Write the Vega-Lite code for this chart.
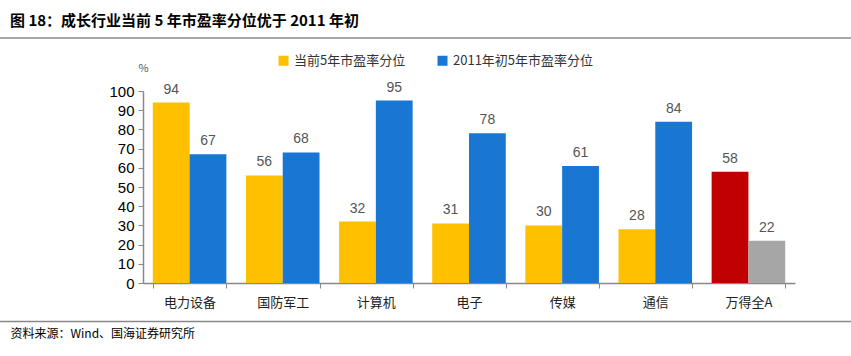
{
  "$schema": "https://vega.github.io/schema/vega-lite/v6.json",
  "autosize": "none",
  "width": 652,
  "height": 192,
  "padding": {"left": 143, "top": 91, "right": 56, "bottom": 73},
  "background": "white",
  "config": {"view": {"stroke": null}, "font": "Noto Sans CJK SC"},
  "title": {
    "text": "图 18：成长行业当前 5 年市盈率分位优于 2011 年初",
    "anchor": "start", "frame": "group", "dx": -133, "offset": 8,
    "fontSize": 15, "fontWeight": "bold", "font": "Noto Sans CJK SC", "color": "#000000"
  },
  "data": {"values": [
    {"cat": "电力设备", "series": "当前5年市盈率分位", "value": 94},
    {"cat": "电力设备", "series": "2011年初5年市盈率分位", "value": 67},
    {"cat": "国防军工", "series": "当前5年市盈率分位", "value": 56},
    {"cat": "国防军工", "series": "2011年初5年市盈率分位", "value": 68},
    {"cat": "计算机", "series": "当前5年市盈率分位", "value": 32},
    {"cat": "计算机", "series": "2011年初5年市盈率分位", "value": 95},
    {"cat": "电子", "series": "当前5年市盈率分位", "value": 31},
    {"cat": "电子", "series": "2011年初5年市盈率分位", "value": 78},
    {"cat": "传媒", "series": "当前5年市盈率分位", "value": 30},
    {"cat": "传媒", "series": "2011年初5年市盈率分位", "value": 61},
    {"cat": "通信", "series": "当前5年市盈率分位", "value": 28},
    {"cat": "通信", "series": "2011年初5年市盈率分位", "value": 84},
    {"cat": "万得全A", "series": "当前5年市盈率分位", "value": 58},
    {"cat": "万得全A", "series": "2011年初5年市盈率分位", "value": 22}
  ]},
  "encoding": {
    "y": {"field": "value", "type": "quantitative",
      "scale": {"domain": [0, 100]},
      "axis": {"title": "%", "titleAngle": 0, "titleX": 0, "titleY": -18, "titleAlign": "center",
        "titleFontSize": 11, "titleFontWeight": "normal", "titleColor": "#555555",
        "values": [0,10,20,30,40,50,60,70,80,90,100], "grid": false, "labelOverlap": false,
        "labelFont": "Liberation Sans", "labelFontSize": 15, "labelColor": "#000000", "labelPadding": 4,
        "tickColor": "#888888", "tickSize": 5, "domainColor": "#888888", "domainWidth": 1.5}}
  },
  "layer": [
    {
      "mark": {"type": "bar"},
      "encoding": {
        "x": {"field": "cat", "type": "nominal", "sort": null,
          "scale": {"paddingInner": 0.21, "paddingOuter": 0.105},
          "axis": {"title": "资料来源：Wind、国海证券研究所", "titleX": -133, "titleY": 50,
            "titleAnchor": "start", "titleAlign": "left", "titleBaseline": "middle",
            "titleFontSize": 12, "titleFontWeight": "normal", "titleColor": "#000000",
            "labelAngle": 0, "labelFontSize": 13, "labelColor": "#222222", "labelPadding": 8,
            "tickBand": "extent", "tickColor": "#888888", "tickSize": 5,
            "domainColor": "#888888", "domainWidth": 1.5}},
        "xOffset": {"field": "series", "type": "nominal", "sort": ["当前5年市盈率分位", "2011年初5年市盈率分位"]},
        "color": {
          "condition": [
            {"test": "datum.cat === '万得全A' && datum.series === '当前5年市盈率分位'", "value": "#C00000"},
            {"test": "datum.cat === '万得全A'", "value": "#A6A6A6"}
          ],
          "field": "series", "type": "nominal",
          "scale": {"domain": ["当前5年市盈率分位", "2011年初5年市盈率分位"], "range": ["#FFC000", "#1976D2"]},
          "legend": {"title": null, "orient": "none", "legendX": 134, "legendY": -37, "direction": "horizontal",
            "symbolType": "square", "symbolSize": 100, "symbolStrokeWidth": 0,
            "labelFontSize": 13, "labelColor": "#333333", "columnPadding": 30}
        }
      }
    },
    {
      "mark": {"type": "text", "baseline": "bottom", "dy": -6, "fontSize": 14, "color": "#555555", "font": "Liberation Sans"},
      "encoding": {
        "x": {"field": "cat", "type": "nominal", "sort": null},
        "xOffset": {"field": "series", "type": "nominal", "sort": ["当前5年市盈率分位", "2011年初5年市盈率分位"]},
        "text": {"field": "value", "type": "quantitative"}
      }
    },
    {
      "data": {"values": [{"line": "top", "value": 127.6}, {"line": "bottom", "value": -20}]},
      "mark": {"type": "rule", "color": "#888888", "strokeWidth": 1.5, "clip": false},
      "encoding": {
        "x": {"value": -143},
        "x2": {"value": 708}
      }
    }
  ]
}
